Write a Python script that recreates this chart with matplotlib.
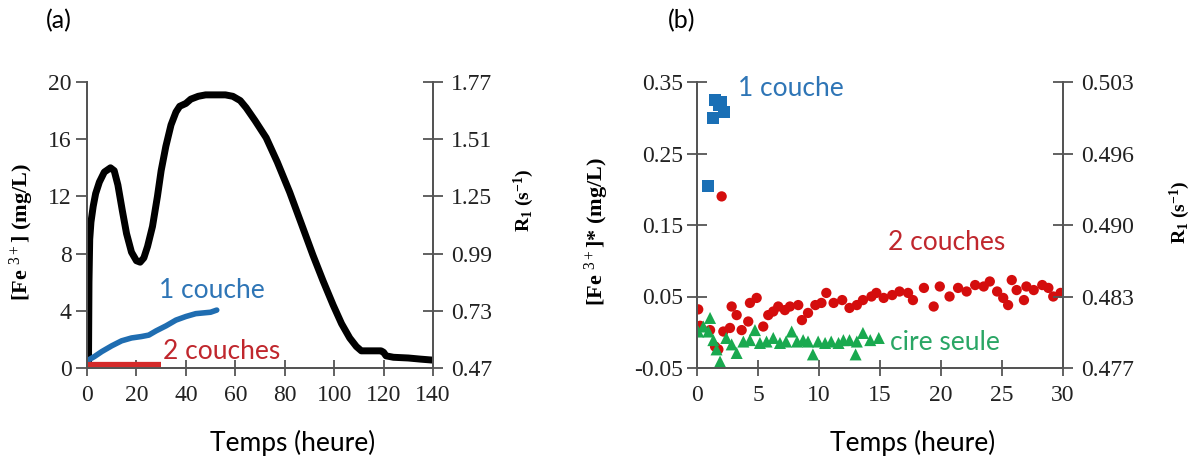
import numpy as np
import matplotlib.pyplot as plt

plt.rcParams["mathtext.fontset"] = "custom"
plt.rcParams["mathtext.rm"] = "Liberation Serif"
plt.rcParams["mathtext.it"] = "Liberation Serif:italic"
plt.rcParams["mathtext.bf"] = "Liberation Serif:bold"

# panel (a): R1 / [Fe3+] over time
t_black = [0, 0.6, 0.8, 1.1, 1.6, 2.5, 3.5, 5, 7, 9.5, 11, 12.5, 14.3, 16, 18, 20, 21.5,
           23, 24.5, 26.5, 28.5, 30, 31.9, 34, 36, 37.5, 40, 42, 45, 48, 52, 56, 59, 62,
           64.4, 68, 72.5, 77, 82, 86.5, 91.4, 95.5, 99.6, 103, 106.3, 109, 111, 115,
           119, 120, 121, 124, 130, 135, 140]
v_black = [0, 0.2, 6.0, 9.0, 10.2, 11.3, 12.2, 13.0, 13.7, 14.0, 13.8, 12.8, 11.0, 9.4,
           8.1, 7.5, 7.4, 7.7, 8.5, 9.9, 12.0, 13.8, 15.5, 17.0, 17.9, 18.3, 18.5, 18.8,
           19.0, 19.1, 19.1, 19.1, 19.0, 18.7, 18.2, 17.3, 16.1, 14.4, 12.3, 10.2, 7.9,
           6.1, 4.4, 3.1, 2.1, 1.5, 1.2, 1.2, 1.2, 1.1, 0.85, 0.75, 0.7, 0.62, 0.55]
t_blue = [0, 3, 6, 10, 14, 18, 22, 25, 28, 32, 36, 40, 44, 47, 50, 52.5]
v_blue = [0.5, 0.8, 1.15, 1.55, 1.9, 2.1, 2.2, 2.3, 2.6, 2.95, 3.35, 3.6, 3.8, 3.85, 3.9, 4.05]
t_red = [0, 30]
v_red = [0.2, 0.2]
r1_ticks_a = ["0.47", "0.73", "0.99", "1.25", "1.51", "1.77"]

# panel (b)
t_sq = [0.9, 1.3, 1.5, 1.8, 2.0, 2.2]
v_sq = [0.205, 0.300, 0.325, 0.318, 0.322, 0.308]
t_dot = [0.1, 0.25, 1.07, 1.48, 1.75, 2.02, 2.16, 2.7, 2.84, 3.25, 3.66, 4.2, 4.34, 4.89,
         5.43, 5.84, 6.25, 6.66, 7.2, 7.62, 8.3, 8.6, 9.1, 9.7, 10.2, 10.6, 11.2, 11.9,
         12.5, 13.1, 13.6, 14.3, 14.7, 15.3, 16.0, 16.6, 17.3, 17.7, 18.6, 19.4, 19.9,
         20.7, 21.4, 22.1, 22.8, 23.5, 24.0, 24.6, 25.1, 25.5, 25.8, 26.2, 26.8, 27.0,
         27.6, 28.3, 28.8, 29.2, 29.8]
v_dot = [0.032, 0.009, 0.003, -0.02, -0.024, 0.19, 0.001, 0.006, 0.036, 0.024, 0.003,
         0.015, 0.041, 0.048, 0.008, 0.024, 0.029, 0.036, 0.031, 0.036, 0.038, 0.017,
         0.027, 0.038, 0.041, 0.055, 0.041, 0.045, 0.034, 0.038, 0.045, 0.05, 0.055,
         0.048, 0.052, 0.057, 0.055, 0.045, 0.062, 0.036, 0.064, 0.05, 0.062, 0.057,
         0.066, 0.064, 0.071, 0.057, 0.048, 0.038, 0.073, 0.059, 0.045, 0.064, 0.059,
         0.066, 0.062, 0.05, 0.055]
t_tri = [0.1, 0.52, 0.93, 1.07, 1.34, 1.6, 1.89, 2.4, 2.84, 3.25, 3.8, 4.34, 4.75, 5.16,
         5.7, 6.25, 6.8, 7.3, 7.76, 8.2, 8.7, 9.1, 9.5, 9.93, 10.5, 11.0, 11.6, 12.0,
         12.5, 13.0, 13.1, 13.6, 14.2, 14.9]
v_tri = [0.001, 0.008, 0.001, 0.02, -0.011, -0.024, -0.041, -0.008, -0.017, -0.029,
         -0.013, -0.011, 0.003, -0.015, -0.013, -0.008, -0.015, -0.013, 0.001, -0.013,
         -0.011, -0.013, -0.031, -0.013, -0.015, -0.013, -0.015, -0.011, -0.011, -0.031,
         -0.013, -0.001, -0.011, -0.008]
r1_ticks_b = ["0.477", "0.483", "0.490", "0.496", "0.503"]

serif = "Liberation Serif"
sans = "Lato"
axcol = "#555555"

fig = plt.figure(figsize=(11.94, 4.57), dpi=100)
W, H = 1194, 457


def box(x0, x1, y0, y1):
    return [x0 / W, 1 - y1 / H, (x1 - x0) / W, (y1 - y0) / H]


def style(ax, twin, left_dir):
    ax.spines["top"].set_visible(False)
    twin.spines["top"].set_visible(False)
    for a in (ax, twin):
        for s in a.spines.values():
            s.set_color(axcol)
            s.set_linewidth(1.4)
    ax.tick_params(axis="y", direction=left_dir, length=8 if left_dir == "out" else 14,
                   width=1.3, color=axcol, labelsize=17, pad=3)
    ax.tick_params(axis="x", direction="inout", length=12, width=1.3, color=axcol,
                   labelsize=17, pad=6)
    twin.tick_params(axis="y", direction="inout", length=14, width=1.3, color=axcol,
                     labelsize=17, pad=6)
    for lab in ax.get_xticklabels() + ax.get_yticklabels() + twin.get_yticklabels():
        lab.set_fontfamily(serif)
        lab.set_color("#222222")


# ---- (a)
ax = fig.add_axes(box(87, 433, 82, 368))
ax.plot(t_black, v_black, color="black", lw=5, solid_capstyle="butt",
        solid_joinstyle="round", zorder=3)
ax.plot(t_blue, v_blue, color="#1f6db1", lw=4, solid_capstyle="round", zorder=4)
ax.plot(t_red, v_red, color="#d42a2a", lw=4.5, solid_capstyle="butt", zorder=4)
ax.set_xlim(0, 140)
ax.set_ylim(0, 20)
ax.set_xticks(np.arange(0, 141, 20))
ax.set_yticks(np.arange(0, 21, 4))
twa = ax.twinx()
twa.set_ylim(0, 20)
twa.set_yticks(np.arange(0, 21, 4))
twa.set_yticklabels(r1_ticks_a)
style(ax, twa, "out")
ax.text(29.2, 5.45, "1 couche", color="#2e75b6", fontsize=19, fontfamily=sans,
        va="center", ha="left")
ax.text(30.6, 1.15, "2 couches", color="#c0272d", fontsize=19, fontfamily=sans,
        va="center", ha="left")
fig.text(22 / W, 1 - 232 / H, r"[Fe $^{3+}$] (mg/L)", fontfamily=serif, fontweight="bold",
         fontsize=16, rotation=90, ha="center", va="center")
fig.text(524 / W, 1 - 200 / H, r"$\mathbf{R_1}$ $\mathbf{(s^{-1})}$", fontfamily=serif,
         fontweight="bold", fontsize=14, rotation=90, ha="center", va="center")

# ---- (b)
bx = fig.add_axes(box(697, 1063, 82, 368))
bx.scatter(t_dot, v_dot, s=55, color="#d40d0d", edgecolors="none", zorder=3)
bx.scatter(t_tri, v_tri, s=75, marker="^", color="#19a94f", edgecolors="none", zorder=4)
bx.scatter(t_sq, v_sq, s=75, marker="s", color="#1a6fb5", edgecolors="none", zorder=5)
bx.set_xlim(0, 30)
bx.set_ylim(-0.05, 0.35)
bx.set_xticks(np.arange(0, 31, 5))
bx.set_yticks([-0.05, 0.05, 0.15, 0.25, 0.35])
bx.set_yticklabels(["-0.05", "0.05", "0.15", "0.25", "0.35"])
twb = bx.twinx()
twb.set_ylim(-0.05, 0.35)
twb.set_yticks([-0.05, 0.05, 0.15, 0.25, 0.35])
twb.set_yticklabels(r1_ticks_b)
style(bx, twb, "inout")
bx.text(3.36, 0.341, "1 couche", color="#2e75b6", fontsize=19, fontfamily=sans,
        va="center", ha="left")
bx.text(15.65, 0.125, "2 couches", color="#c0272d", fontsize=19, fontfamily=sans,
        va="center", ha="left")
bx.text(15.8, -0.015, "cire seule", color="#2aa665", fontsize=19, fontfamily=sans,
        va="center", ha="left")
fig.text(597 / W, 1 - 232 / H, r"[Fe $^{3+}$]* (mg/L)", fontfamily=serif, fontweight="bold",
         fontsize=16, rotation=90, ha="center", va="center")
fig.text(1180 / W, 1 - 212 / H, r"$\mathbf{R_1}$ $\mathbf{(s^{-1})}$", fontfamily=serif,
         fontweight="bold", fontsize=14, rotation=90, ha="center", va="center")

# titles and x labels
fig.text(59 / W, 1 - 21 / H, "(a)", fontsize=18, fontfamily=sans, ha="center", va="center")
fig.text(682 / W, 1 - 21 / H, "(b)", fontsize=18, fontfamily=sans, ha="center", va="center")
fig.text(293 / W, 1 - 443 / H, "Temps (heure)", fontsize=19, fontfamily=sans,
         ha="center", va="center")
fig.text(913 / W, 1 - 443 / H, "Temps (heure)", fontsize=19, fontfamily=sans,
         ha="center", va="center")

fig.savefig("out.png", dpi=100)
